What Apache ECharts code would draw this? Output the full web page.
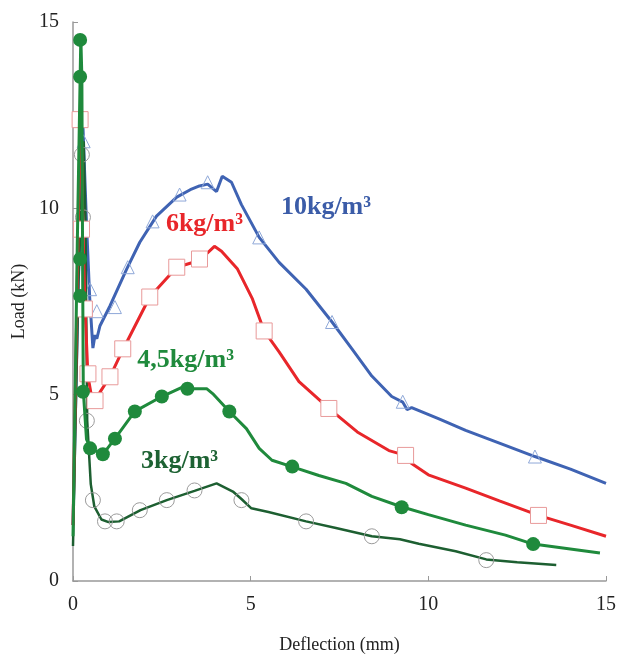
<!DOCTYPE html>
<html><head><meta charset="utf-8">
<script src="https://cdn.jsdelivr.net/npm/echarts@6/dist/echarts.min.js"></script>
<style>html,body{margin:0;padding:0;background:#fff}#c{width:619px;height:659px}</style>
</head><body><div id="c"></div>
<script>
// Curves: [deflection mm, load kN]
const curve10 = [[0,1.5],[0.15,8],[0.28,12.2],[0.38,9.6],[0.47,7.6],[0.56,6.25],[0.62,6.6],[0.67,6.5],[0.76,6.85],[1.04,7.38],[1.51,8.37],[1.88,9.09],[2.35,9.79],[2.92,10.3],[3.3,10.5],[3.56,10.6],[3.79,10.65],[4.04,10.45],[4.2,10.86],[4.46,10.7],[4.74,10.1],[5.24,9.22],[5.8,8.55],[6.56,7.83],[7.29,6.95],[7.85,6.23],[8.41,5.5],[8.97,4.95],[9.28,4.8],[9.4,4.6],[9.53,4.65],[10.3,4.35],[11.05,4.04],[12.0,3.7],[13.0,3.34],[14.0,3.0],[15.0,2.62]];
const curve6 = [[0,1.5],[0.12,8],[0.22,13.2],[0.28,9.4],[0.34,7.3],[0.42,5.5],[0.55,4.8],[0.65,4.75],[0.76,5.07],[1.04,5.48],[1.4,6.2],[2.16,7.62],[2.92,8.42],[3.56,8.6],[3.98,8.98],[4.18,8.85],[4.63,8.37],[5.05,7.57],[5.38,6.71],[5.8,6.15],[6.36,5.35],[7.2,4.63],[8.0,4.0],[8.89,3.5],[9.36,3.37],[9.53,3.15],[10.0,2.85],[11.05,2.49],[12.0,2.15],[12.8,1.87],[13.1,1.76],[14.0,1.5],[15.0,1.2]];
const curve45 = [[0,1.2],[0.12,9],[0.22,14.6],[0.25,13.5],[0.27,8.6],[0.29,5.1],[0.38,3.8],[0.5,3.55],[0.84,3.4],[1.18,3.82],[1.74,4.55],[2.5,4.95],[3.08,5.2],[3.22,5.16],[3.76,5.16],[3.93,5.03],[4.4,4.55],[4.88,4.09],[5.24,3.56],[5.6,3.24],[6.22,3.05],[6.92,2.83],[7.68,2.62],[8.41,2.27],[9.22,2.0],[10.0,1.78],[11.05,1.5],[12.17,1.23],[12.95,0.99],[14.83,0.75]];
const curve3 = [[0,0.94],[0.15,8],[0.3,11.8],[0.35,9.7],[0.4,4.3],[0.5,2.6],[0.6,2.0],[0.8,1.65],[1.0,1.58],[1.3,1.6],[1.9,1.9],[2.64,2.17],[3.42,2.42],[4.04,2.62],[4.5,2.4],[4.74,2.2],[5.02,1.95],[5.5,1.85],[6.56,1.6],[7.4,1.42],[8.41,1.2],[9.2,1.12],[9.73,1.0],[10.77,0.8],[11.63,0.58],[12.5,0.5],[13.6,0.43]];
// Marker positions
const marks10 = [[0.3,11.8],[0.48,7.83],[0.67,7.24],[1.18,7.35],[1.54,8.42],[2.24,9.65],[3.0,10.37],[3.79,10.7],[5.24,9.22],[7.29,6.95],[9.28,4.81],[13.0,3.34]];
const marks6 = [[0.2,12.38],[0.24,9.44],[0.32,7.3],[0.42,5.56],[0.62,4.84],[1.04,5.48],[1.4,6.23],[2.16,7.62],[2.92,8.42],[3.56,8.64],[5.38,6.71],[7.2,4.63],[9.36,3.37],[13.1,1.76]];
const marks45 = [[0.2,14.52],[0.2,13.53],[0.2,8.64],[0.2,7.65],[0.28,5.08],[0.48,3.56],[0.84,3.4],[1.18,3.82],[1.74,4.55],[2.5,4.95],[3.22,5.16],[4.4,4.55],[6.17,3.07],[9.25,1.98],[12.95,0.99]];
const marks3 = [[0.25,11.44],[0.28,9.76],[0.39,4.3],[0.56,2.17],[0.9,1.6],[1.23,1.6],[1.88,1.9],[2.64,2.17],[3.42,2.43],[4.74,2.17],[6.56,1.6],[8.41,1.2],[11.63,0.56]];
const labelTexts = ['10kg/m³','6kg/m³','4,5kg/m³','3kg/m³'];
const labelPos = [[7.12,10.03],[3.70,9.57],[3.17,5.91],[3.0,3.21]];

const cBlue='#3f63b3', cRed='#e8262a', cGreen='#1f8a3c', cDark='#1d5f31';
const labCols=['#3b5ca8','#e8262a','#1f8a3c','#1d6233'];
const serif='"Liberation Serif","DejaVu Serif",serif';
const lineS=(d,col,w,z)=>({type:'line',data:d,showSymbol:false,symbol:'none',smooth:false,lineStyle:{color:col,width:w},z:z,silent:true});
const chart=echarts.init(document.getElementById('c'));
chart.setOption({
  animation:false,
  grid:{left:73,right:11,top:22,bottom:76},
  xAxis:{type:'value',min:0,max:15,interval:5,
    name:'Deflection (mm)',nameLocation:'middle',nameGap:55,
    nameTextStyle:{fontFamily:serif,fontSize:18,color:'#222'},
    axisLine:{lineStyle:{color:'#999',width:1.5}},
    axisTick:{inside:true,length:5,lineStyle:{color:'#999'}},
    axisLabel:{fontFamily:serif,fontSize:20,color:'#222',margin:14},
    splitLine:{show:false}},
  yAxis:{type:'value',min:0,max:15,interval:5,
    name:'Load (kN)',nameLocation:'middle',nameGap:44,nameRotate:90,
    nameTextStyle:{fontFamily:serif,fontSize:18,color:'#222'},
    axisLine:{show:true,lineStyle:{color:'#999',width:1.5}},
    axisTick:{show:true,inside:true,length:5,lineStyle:{color:'#999'}},
    axisLabel:{fontFamily:serif,fontSize:20,color:'#222',margin:14},
    splitLine:{show:false}},
  series:[
    lineS(curve10,cBlue,3,2),
    {type:'scatter',data:marks10,symbol:'triangle',symbolSize:13,itemStyle:{opacity:1,color:'rgba(255,255,255,0)',borderColor:'#8fa8d8',borderWidth:1},z:3,silent:true},
    lineS(curve3,cDark,2.5,4),
    {type:'scatter',data:marks3,symbol:'circle',symbolSize:15,itemStyle:{opacity:1,color:'rgba(255,255,255,0)',borderColor:'#9a9a9a',borderWidth:1},z:5,silent:true},
    lineS(curve6,cRed,3,6),
    {type:'scatter',data:marks6,symbol:'rect',symbolSize:16,itemStyle:{opacity:1,color:'#fff',borderColor:'#e89a9a',borderWidth:1},z:7,silent:true},
    lineS(curve45,cGreen,3,8),
    {type:'scatter',data:marks45,symbol:'circle',symbolSize:14,itemStyle:{opacity:1,color:cGreen},z:9,silent:true},
    {type:'scatter',symbolSize:1,itemStyle:{opacity:1,color:'rgba(0,0,0,0)'},z:10,silent:true,
      data:labelPos.map((p,i)=>({value:p,name:labelTexts[i],label:{color:labCols[i]}})),
      label:{show:true,position:'inside',formatter:p=>p.name,fontFamily:serif,fontWeight:'bold',fontSize:26}}
  ]
});
</script></body></html>
